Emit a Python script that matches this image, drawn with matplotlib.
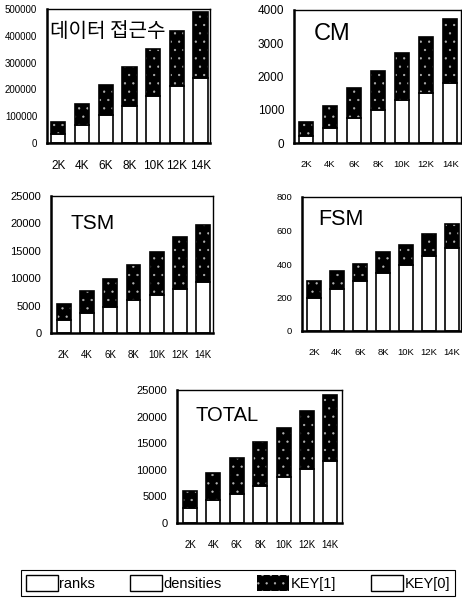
"""Stacked bar panels: data access counts and CM/TSM/FSM/TOTAL by data size."""

import matplotlib

matplotlib.use("Agg")

from matplotlib import pyplot as plt
from matplotlib.patches import Patch

plt.rcParams["font.family"] = ["Liberation Sans", "Noto Sans CJK KR", "DejaVu Sans"]
plt.rcParams["hatch.linewidth"] = 0.4

SIZES = ["2K", "4K", "6K", "8K", "10K", "12K", "14K"]

ACCESS_KEY0 = [35000, 66000, 106000, 137000, 175000, 212000, 243000]
ACCESS_TOTAL = [78000, 147000, 216000, 284000, 350000, 418000, 490000]

CM_KEY0 = [221, 462, 764, 1005, 1286, 1508, 1809]
CM_TOTAL = [623, 1105, 1658, 2161, 2713, 3196, 3739]

TSM_KEY0 = [2439, 3659, 4756, 5976, 7012, 8110, 9329]
TSM_TOTAL = [5366, 7622, 9878, 12500, 14756, 17439, 19695]

FSM_KEY0 = [199, 253, 297, 346, 396, 446, 496]
FSM_TOTAL = [298, 358, 402, 470, 515, 581, 637]

ALL_KEY0 = [2812, 4375, 5500, 7000, 8562, 10125, 11687]
ALL_TOTAL = [6062, 9312, 12312, 15312, 17937, 21062, 24062]

FIG_W, FIG_H = 462, 606
DOT_COLOR = "#b4b4b4"
DOT_HATCH = ".."


def add_panel(fig, box, title, key0, total, ymax, ystep, xlim, title_xy,
              ysize=7.5, xsize=7.0):
    left, top, right, bottom = box
    ax = fig.add_axes([left / FIG_W, 1 - bottom / FIG_H,
                       (right - left) / FIG_W, (bottom - top) / FIG_H])
    x = range(len(SIZES))
    key1 = [t - k for t, k in zip(total, key0)]
    width = 0.6
    ax.bar(x, key0, width=width, color="white", edgecolor="black", linewidth=1.2)
    ax.bar(x, key1, width=width, bottom=key0, color="black",
           edgecolor=DOT_COLOR, hatch=DOT_HATCH, linewidth=0)
    ax.bar(x, key1, width=width, bottom=key0, fill=False,
           edgecolor="black", linewidth=1.2)

    ax.set_xlim(*xlim)
    ax.set_ylim(0, ymax)
    ax.set_yticks(range(0, ymax + 1, ystep))
    ax.set_xticks(list(x))
    ax.set_xticklabels(SIZES)
    ax.tick_params(axis="y", length=0, pad=7, labelsize=ysize)
    ax.tick_params(axis="x", length=0, pad=12, labelsize=xsize)
    for side in ("top", "right"):
        ax.spines[side].set_linewidth(1.0)
    for side in ("left", "bottom"):
        ax.spines[side].set_linewidth(1.8)

    ax.text(title_xy[0], title_xy[1], title, transform=ax.transAxes,
            fontsize=title_xy[2], ha="left", va="center",
            family=title_xy[3])
    return ax


def main() -> None:
    fig = plt.figure(figsize=(FIG_W / 100, FIG_H / 100), dpi=100)

    add_panel(fig, (47, 9, 210, 143), "데이터 접근수", ACCESS_KEY0, ACCESS_TOTAL,
              500000, 100000, (-0.48, 6.4),
              (0.02, 0.83, 14.5, ["Noto Sans CJK KR", "DejaVu Sans"]),
              ysize=7, xsize=8.5)
    add_panel(fig, (294, 10, 461, 143), "CM", CM_KEY0, CM_TOTAL,
              4000, 1000, (-0.5, 6.45),
              (0.12, 0.82, 17, ["Liberation Sans"]), ysize=8.5, xsize=6.8)
    add_panel(fig, (51, 196, 213, 333), "TSM", TSM_KEY0, TSM_TOTAL,
              25000, 5000, (-0.56, 6.43),
              (0.12, 0.80, 15, ["Liberation Sans"]), ysize=8)
    add_panel(fig, (302, 197, 461, 331), "FSM", FSM_KEY0, FSM_TOTAL,
              800, 200, (-0.52, 6.4),
              (0.10, 0.83, 15.5, ["Liberation Sans"]), ysize=6.8, xsize=6.8)
    add_panel(fig, (177, 390, 342, 523), "TOTAL", ALL_KEY0, ALL_TOTAL,
              25000, 5000, (-0.56, 6.5),
              (0.115, 0.81, 14.5, ["Liberation Sans"]), ysize=8)

    handles = [
        Patch(facecolor="white", edgecolor="black", linewidth=1.0),
        Patch(facecolor="white", edgecolor="black", linewidth=1.0),
        Patch(facecolor="black", edgecolor=DOT_COLOR, hatch=DOT_HATCH, linewidth=0),
        Patch(facecolor="white", edgecolor="black", linewidth=1.0),
    ]
    labels = ["ranks", "densities", "KEY[1]", "KEY[0]"]
    legend = fig.legend(
        handles, labels,
        loc="center",
        bbox_to_anchor=(238 / FIG_W, 1 - 583 / FIG_H),
        ncol=4,
        fontsize=10.5,
        handlelength=2.2,
        handleheight=1.3,
        handletextpad=0.1,
        columnspacing=2.4,
        borderpad=0.35,
        borderaxespad=0,
        fancybox=False,
        edgecolor="black",
        framealpha=1,
    )
    legend.get_frame().set_linewidth(0.8)

    fig.savefig("out.png", dpi=100)
    plt.close(fig)


if __name__ == "__main__":
    main()
